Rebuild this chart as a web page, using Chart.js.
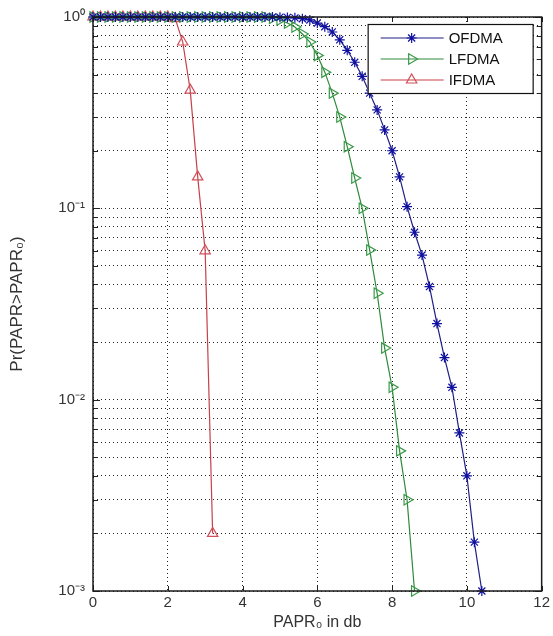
<!DOCTYPE html>
<html>
<head>
<meta charset="utf-8">
<script src="https://cdn.jsdelivr.net/npm/chart.js@4.4.0/dist/chart.umd.min.js"></script>
<style>
	html, body { margin: 0; padding: 0; background: #fff; }
	canvas { display: block; }
</style>
</head>
<body>
<canvas id="paprChart" width="553" height="636"></canvas>
<script>

// PAPR threshold grid (dB), shared by all three curves
var paprDb = [0, 0.2, 0.4, 0.6, 0.8, 1, 1.2, 1.4, 1.6, 1.8, 2, 2.2, 2.4, 2.6, 2.8, 3, 3.2, 3.4, 3.6, 3.8,
	4, 4.2, 4.4, 4.6, 4.8, 5, 5.2, 5.4, 5.6, 5.8, 6, 6.2, 6.4, 6.6, 6.8, 7, 7.2, 7.4, 7.6, 7.8,
	8, 8.2, 8.4, 8.6, 8.8, 9, 9.2, 9.4, 9.6, 9.8, 10, 10.2, 10.4];

var seriesNames = ["OFDMA", "LFDMA", "IFDMA"];

var ofdmaCcdf = [1, 1, 1, 1, 1, 1, 1, 1, 1, 1, 1, 1, 1, 1, 1, 1, 1, 1, 1, 1, 1, 1, 1, 1, 1,
	0.998, 0.995, 0.99, 0.98, 0.965, 0.93, 0.89, 0.835, 0.76, 0.67, 0.58, 0.49, 0.40, 0.327, 0.257,
	0.20, 0.146, 0.102, 0.075, 0.057, 0.039, 0.025, 0.0166, 0.0116, 0.0067, 0.0040, 0.0018, 0.001];

var lfdmaCcdf = [1, 1, 1, 1, 1, 1, 1, 1, 1, 1, 1, 1, 1, 1, 1, 1, 1, 1, 1, 1, 1, 1, 1, 1,
	0.985, 0.965, 0.93, 0.887, 0.815, 0.74, 0.63, 0.515, 0.40, 0.30, 0.21, 0.144, 0.1, 0.0605,
	0.036, 0.0186, 0.0116, 0.0054, 0.003, 0.001];

var ifdmaCcdf = [1, 1, 1, 1, 1, 1, 1, 1, 1, 1, 1,
	0.98, 0.74, 0.415, 0.146, 0.06, 0.002];

var xTicks = [0, 2, 4, 6, 8, 10, 12];
var yDecades = [0.001, 0.01, 0.1, 1];
var yDecadeLabels = ["10\u207B\u00B3", "10\u207B\u00B2", "10\u207B\u00B9", "10\u2070"];

var lineColors = ["#1f1f86", "#2e8a3c", "#c7404a"];
var markerColors = ["#1010a0", "#3a9a48", "#d0505a"];
var markerStyles = ["star", "triangle", "triangle"];
var markerRotation = [0, 90, 0];
var markerSize = [5, 6, 6];

function toPoints(values){
	var pts = [];
	for (var i = 0; i < values.length; i++){
		pts.push({ x: paprDb[i], y: values[i] });
	}
	return pts;
}

function minorLogTicks(){
	var ticks = [];
	for (var d = 0; d < yDecades.length - 1; d++){
		for (var m = 1; m < 10; m++){
			ticks.push(yDecades[d] * m);
		}
	}
	ticks.push(yDecades[yDecades.length - 1]);
	return ticks;
}

function isDecade(v){
	for (var i = 0; i < yDecades.length; i++){
		if (Math.abs(v - yDecades[i]) < yDecades[i] * 1e-6){ return i; }
	}
	return -1;
}

var matlabAxes = {
	id: 'matlabAxes',
	beforeDraw: function(chart){
		var ctx = chart.ctx;
		ctx.save();
		ctx.fillStyle = '#ffffff';
		ctx.fillRect(0, 0, chart.width, chart.height);
		ctx.restore();
	},
	afterDraw: function(chart){
		var ctx = chart.ctx;
		var a = chart.chartArea;
		var xs = chart.scales.x;
		var ys = chart.scales.y;
		var tl = 5;

		ctx.save();
		ctx.strokeStyle = '#222';
		ctx.lineWidth = 1;
		ctx.beginPath();
		xTicks.forEach(function(v){
			var px = Math.round(xs.getPixelForValue(v)) + 0.5;
			ctx.moveTo(px, a.bottom); ctx.lineTo(px, a.bottom - tl);
			ctx.moveTo(px, a.top); ctx.lineTo(px, a.top + tl);
		});
		minorLogTicks().forEach(function(v){
			var py = Math.round(ys.getPixelForValue(v)) + 0.5;
			var len = isDecade(v) >= 0 ? tl + 2 : tl;
			ctx.moveTo(a.left, py); ctx.lineTo(a.left + len, py);
			ctx.moveTo(a.right, py); ctx.lineTo(a.right - len, py);
		});
		ctx.stroke();

		ctx.lineWidth = 1.5;
		ctx.strokeStyle = '#1a1a1a';
		ctx.strokeRect(a.left, a.top, a.right - a.left, a.bottom - a.top);

		// legend box, top right inside the axes
		var lw = 165, lh = 69;
		var lx = a.right - 9 - lw, ly = a.top + 7;
		ctx.fillStyle = '#ffffff';
		ctx.fillRect(lx, ly, lw, lh);
		ctx.lineWidth = 1.2;
		ctx.strokeStyle = '#111';
		ctx.strokeRect(lx + 0.5, ly + 0.5, lw, lh);

		ctx.font = '15px "Liberation Sans", Arial, sans-serif';
		ctx.textBaseline = 'middle';
		ctx.textAlign = 'left';
		for (var i = 0; i < seriesNames.length; i++){
			var ry = ly + 14 + i * 21;
			ctx.strokeStyle = lineColors[i];
			ctx.lineWidth = 1.2;
			ctx.beginPath();
			ctx.moveTo(lx + 13, ry);
			ctx.lineTo(lx + 76, ry);
			ctx.stroke();
			ctx.strokeStyle = markerColors[i];
			ctx.fillStyle = 'rgba(0,0,0,0)';
			Chart.helpers.drawPoint(ctx, {
				pointStyle: markerStyles[i],
				rotation: markerRotation[i],
				radius: markerSize[i],
				borderWidth: 1.2
			}, lx + 44, ry);
			ctx.fillStyle = '#111';
			ctx.fillText(seriesNames[i], lx + 81, ry + 1);
		}
		ctx.restore();
	}
};

function init_papr_chart(){

	if( typeof (Chart) === 'undefined'){ return; }

	var curves = [ofdmaCcdf, lfdmaCcdf, ifdmaCcdf];
	var datasets = [];
	for (var i = 0; i < curves.length; i++){
		datasets.push({
			label: seriesNames[i],
			data: toPoints(curves[i]),
			borderColor: lineColors[i],
			borderWidth: 1.2,
			pointStyle: markerStyles[i],
			pointRotation: markerRotation[i],
			pointRadius: markerSize[i],
			pointBorderColor: markerColors[i],
			pointBackgroundColor: 'rgba(0,0,0,0)',
			pointBorderWidth: 1.2,
			tension: 0,
			clip: false
		});
	}

	var tickFont = { family: '"Liberation Sans", Arial, sans-serif', size: 15 };

	new Chart(document.getElementById('paprChart'), {
		type: 'line',
		data: { datasets: datasets },
		options: {
			responsive: false,
			animation: false,
			layout: { padding: { top: 17, right: 10, left: 7, bottom: 0 } },
			plugins: {
				legend: { display: false },
				tooltip: { enabled: false }
			},
			scales: {
				x: {
					type: 'linear',
					min: 0,
					max: 12,
					afterBuildTicks: function(scale){
						scale.ticks = xTicks.map(function(v){ return { value: v }; });
					},
					afterFit: function(scale){ scale.height = 45; },
					ticks: { color: '#333', font: tickFont, padding: 3, autoSkip: false, maxRotation: 0 },
					grid: { color: '#222', lineWidth: 1, drawTicks: false },
					border: { display: false, dash: [1, 3] },
					title: {
						display: true,
						text: 'PAPR\u2080 in db',
						color: '#333',
						font: { family: '"Liberation Sans", Arial, sans-serif', size: 16 },
						padding: { top: 0, bottom: 4 }
					}
				},
				y: {
					type: 'logarithmic',
					min: 0.001,
					max: 1,
					afterBuildTicks: function(scale){
						scale.ticks = minorLogTicks().map(function(v){ return { value: v, major: isDecade(v) >= 0 }; });
					},
					afterFit: function(scale){ scale.width = 86; },
					ticks: {
						color: '#333',
						font: tickFont,
						padding: 8,
						autoSkip: false,
						callback: function(value){
							var k = isDecade(value);
							return k >= 0 ? yDecadeLabels[k] : '';
						}
					},
					grid: { color: '#222', lineWidth: 1, drawTicks: false },
					border: { display: false, dash: [1, 3] },
					title: {
						display: true,
						text: 'Pr(PAPR>PAPR\u2080)',
						color: '#333',
						font: { family: '"Liberation Sans", Arial, sans-serif', size: 17 },
						padding: { top: 0, bottom: 0 }
					}
				}
			}
		},
		plugins: [matlabAxes]
	});
}

init_papr_chart();
</script>
</body>
</html>
